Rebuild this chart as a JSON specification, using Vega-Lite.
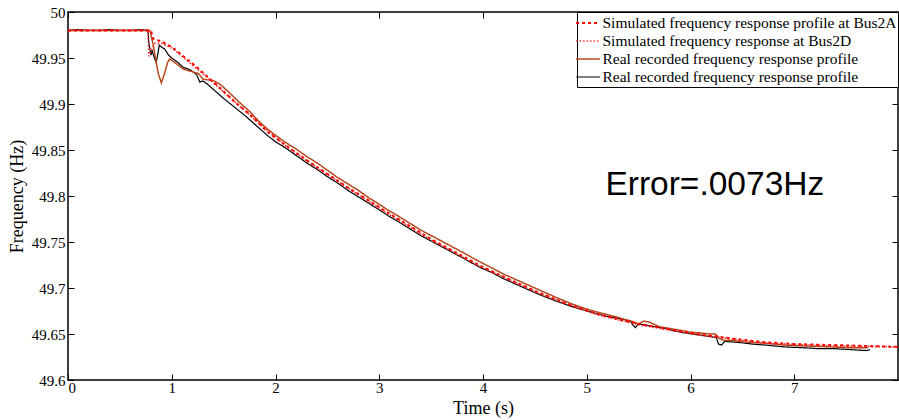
{
  "$schema": "https://vega.github.io/schema/vega-lite/v6.json",
  "width": 830,
  "height": 368,
  "autosize": {"type": "none"},
  "padding": {"left": 68, "top": 12, "right": 1, "bottom": 40},
  "config": {
    "view": {"stroke": "black", "strokeWidth": 1.5},
    "font": "Liberation Serif",
    "axis": {"domain": false, "tickColor": "black", "labelColor": "black", "titleColor": "black", "grid": false, "labelFont": "Liberation Serif", "titleFont": "Liberation Serif", "labelFontSize": 15, "titleFontSize": 18, "titleFontWeight": "normal", "tickWidth": 1}
  },
  "datasets": {
    "lines": [
      {"s":"D","t":0,"f":49.980},{"s":"D","t":0.1,"f":49.981},{"s":"D","t":0.2,"f":49.980},{"s":"D","t":0.3,"f":49.980},{"s":"D","t":0.4,"f":49.981},{"s":"D","t":0.5,"f":49.980},{"s":"D","t":0.6,"f":49.980},{"s":"D","t":0.7,"f":49.981},{"s":"D","t":0.77,"f":49.980},{"s":"D","t":0.78,"f":49.966},{"s":"D","t":0.8,"f":49.953},{"s":"D","t":0.81,"f":49.958},{"s":"D","t":0.83,"f":49.951},{"s":"D","t":0.85,"f":49.945},{"s":"D","t":0.87,"f":49.957},{"s":"D","t":0.88,"f":49.964},{"s":"D","t":0.9,"f":49.962},{"s":"D","t":0.93,"f":49.960},{"s":"D","t":0.97,"f":49.953},{"s":"D","t":1.0,"f":49.950},{"s":"D","t":1.05,"f":49.946},{"s":"D","t":1.11,"f":49.940},{"s":"D","t":1.18,"f":49.937},{"s":"D","t":1.24,"f":49.932},{"s":"D","t":1.27,"f":49.924},{"s":"D","t":1.30,"f":49.925},{"s":"D","t":1.34,"f":49.922},{"s":"D","t":1.40,"f":49.916},{"s":"D","t":1.5,"f":49.906},{"s":"D","t":1.6,"f":49.897},{"s":"D","t":1.7,"f":49.888},{"s":"D","t":1.8,"f":49.878},{"s":"D","t":1.92,"f":49.866},{"s":"D","t":2.0,"f":49.859},{"s":"D","t":2.1,"f":49.852},{"s":"D","t":2.2,"f":49.844},{"s":"D","t":2.3,"f":49.836},{"s":"D","t":2.4,"f":49.829},{"s":"D","t":2.5,"f":49.821},{"s":"D","t":2.6,"f":49.814},{"s":"D","t":2.7,"f":49.806},{"s":"D","t":2.8,"f":49.799},{"s":"D","t":2.9,"f":49.792},{"s":"D","t":3.0,"f":49.785},{"s":"D","t":3.08,"f":49.779},{"s":"D","t":3.2,"f":49.771},{"s":"D","t":3.3,"f":49.764},{"s":"D","t":3.4,"f":49.757},{"s":"D","t":3.5,"f":49.751},{"s":"D","t":3.6,"f":49.745},{"s":"D","t":3.7,"f":49.739},{"s":"D","t":3.8,"f":49.733},{"s":"D","t":3.96,"f":49.723},{"s":"D","t":4.1,"f":49.716},{"s":"D","t":4.2,"f":49.710},{"s":"D","t":4.3,"f":49.705},{"s":"D","t":4.4,"f":49.700},{"s":"D","t":4.54,"f":49.693},{"s":"D","t":4.7,"f":49.686},{"s":"D","t":4.85,"f":49.680},{"s":"D","t":5.0,"f":49.675},{"s":"D","t":5.1,"f":49.672},{"s":"D","t":5.2,"f":49.669},{"s":"D","t":5.3,"f":49.667},{"s":"D","t":5.42,"f":49.664},{"s":"D","t":5.45,"f":49.659},{"s":"D","t":5.47,"f":49.657},{"s":"D","t":5.5,"f":49.661},{"s":"D","t":5.6,"f":49.659},{"s":"D","t":5.75,"f":49.656},{"s":"D","t":5.9,"f":49.652},{"s":"D","t":6.08,"f":49.649},{"s":"D","t":6.2,"f":49.647},{"s":"D","t":6.25,"f":49.646},{"s":"D","t":6.27,"f":49.639},{"s":"D","t":6.3,"f":49.638},{"s":"D","t":6.33,"f":49.642},{"s":"D","t":6.45,"f":49.641},{"s":"D","t":6.6,"f":49.639},{"s":"D","t":6.72,"f":49.638},{"s":"D","t":6.9,"f":49.636},{"s":"D","t":7.1,"f":49.635},{"s":"D","t":7.25,"f":49.634},{"s":"D","t":7.4,"f":49.634},{"s":"D","t":7.55,"f":49.633},{"s":"D","t":7.7,"f":49.632},{"s":"D","t":7.73,"f":49.633},
      {"s":"C","t":0,"f":49.980},{"s":"C","t":0.3,"f":49.980},{"s":"C","t":0.6,"f":49.980},{"s":"C","t":0.79,"f":49.980},{"s":"C","t":0.82,"f":49.965},{"s":"C","t":0.84,"f":49.952},{"s":"C","t":0.87,"f":49.933},{"s":"C","t":0.90,"f":49.923},{"s":"C","t":0.93,"f":49.933},{"s":"C","t":0.96,"f":49.945},{"s":"C","t":0.98,"f":49.949},{"s":"C","t":1.03,"f":49.945},{"s":"C","t":1.11,"f":49.938},{"s":"C","t":1.2,"f":49.935},{"s":"C","t":1.26,"f":49.933},{"s":"C","t":1.30,"f":49.927},{"s":"C","t":1.36,"f":49.926},{"s":"C","t":1.41,"f":49.925},{"s":"C","t":1.47,"f":49.921},{"s":"C","t":1.53,"f":49.915},{"s":"C","t":1.65,"f":49.902},{"s":"C","t":1.75,"f":49.892},{"s":"C","t":1.85,"f":49.880},{"s":"C","t":1.92,"f":49.873},{"s":"C","t":2.0,"f":49.866},{"s":"C","t":2.1,"f":49.858},{"s":"C","t":2.2,"f":49.851},{"s":"C","t":2.3,"f":49.843},{"s":"C","t":2.4,"f":49.836},{"s":"C","t":2.5,"f":49.828},{"s":"C","t":2.6,"f":49.820},{"s":"C","t":2.7,"f":49.813},{"s":"C","t":2.8,"f":49.806},{"s":"C","t":2.9,"f":49.798},{"s":"C","t":3.0,"f":49.791},{"s":"C","t":3.08,"f":49.785},{"s":"C","t":3.2,"f":49.777},{"s":"C","t":3.3,"f":49.770},{"s":"C","t":3.4,"f":49.763},{"s":"C","t":3.5,"f":49.757},{"s":"C","t":3.6,"f":49.751},{"s":"C","t":3.7,"f":49.745},{"s":"C","t":3.8,"f":49.739},{"s":"C","t":3.96,"f":49.729},{"s":"C","t":4.1,"f":49.721},{"s":"C","t":4.2,"f":49.715},{"s":"C","t":4.3,"f":49.710},{"s":"C","t":4.4,"f":49.705},{"s":"C","t":4.54,"f":49.698},{"s":"C","t":4.7,"f":49.690},{"s":"C","t":4.85,"f":49.683},{"s":"C","t":5.0,"f":49.677},{"s":"C","t":5.1,"f":49.674},{"s":"C","t":5.2,"f":49.671},{"s":"C","t":5.3,"f":49.668},{"s":"C","t":5.43,"f":49.664},{"s":"C","t":5.5,"f":49.661},{"s":"C","t":5.55,"f":49.664},{"s":"C","t":5.6,"f":49.663},{"s":"C","t":5.7,"f":49.658},{"s":"C","t":5.85,"f":49.655},{"s":"C","t":6.0,"f":49.652},{"s":"C","t":6.1,"f":49.651},{"s":"C","t":6.2,"f":49.650},{"s":"C","t":6.24,"f":49.650},{"s":"C","t":6.28,"f":49.645},{"s":"C","t":6.33,"f":49.643},{"s":"C","t":6.4,"f":49.643},{"s":"C","t":6.55,"f":49.641},{"s":"C","t":6.72,"f":49.640},{"s":"C","t":6.9,"f":49.638},{"s":"C","t":7.1,"f":49.637},{"s":"C","t":7.36,"f":49.636},{"s":"C","t":7.55,"f":49.635},{"s":"C","t":7.71,"f":49.635},
      {"s":"B","t":0,"f":49.980},{"s":"B","t":0.77,"f":49.980},{"s":"B","t":0.78,"f":49.952},{"s":"B","t":0.8,"f":49.958},{"s":"B","t":0.84,"f":49.966},{"s":"B","t":0.9,"f":49.966},{"s":"B","t":1.0,"f":49.961},{"s":"B","t":1.3,"f":49.933},{"s":"B","t":1.46,"f":49.917},{"s":"B","t":1.75,"f":49.888},{"s":"B","t":2.1,"f":49.854},{"s":"B","t":2.5,"f":49.823},{"s":"B","t":3.08,"f":49.781},{"s":"B","t":3.5,"f":49.752},{"s":"B","t":3.96,"f":49.724},{"s":"B","t":4.54,"f":49.694},{"s":"B","t":5.1,"f":49.671},{"s":"B","t":5.5,"f":49.660},{"s":"B","t":6.08,"f":49.649},{"s":"B","t":6.72,"f":49.640},{"s":"B","t":7.36,"f":49.637},{"s":"B","t":8.0,"f":49.636},
      {"s":"A","t":0,"f":49.980},{"s":"A","t":0.8,"f":49.980},{"s":"A","t":0.82,"f":49.971},{"s":"A","t":0.9,"f":49.968},{"s":"A","t":1.0,"f":49.962},{"s":"A","t":1.1,"f":49.953},{"s":"A","t":1.2,"f":49.944},{"s":"A","t":1.3,"f":49.934},{"s":"A","t":1.46,"f":49.918},{"s":"A","t":1.6,"f":49.903},{"s":"A","t":1.75,"f":49.889},{"s":"A","t":1.92,"f":49.870},{"s":"A","t":2.1,"f":49.855},{"s":"A","t":2.3,"f":49.839},{"s":"A","t":2.5,"f":49.824},{"s":"A","t":2.7,"f":49.809},{"s":"A","t":2.9,"f":49.795},{"s":"A","t":3.08,"f":49.782},{"s":"A","t":3.3,"f":49.767},{"s":"A","t":3.5,"f":49.753},{"s":"A","t":3.7,"f":49.741},{"s":"A","t":3.96,"f":49.725},{"s":"A","t":4.2,"f":49.712},{"s":"A","t":4.54,"f":49.695},{"s":"A","t":4.8,"f":49.683},{"s":"A","t":5.1,"f":49.672},{"s":"A","t":5.3,"f":49.666},{"s":"A","t":5.5,"f":49.661},{"s":"A","t":5.8,"f":49.655},{"s":"A","t":6.08,"f":49.650},{"s":"A","t":6.4,"f":49.645},{"s":"A","t":6.72,"f":49.641},{"s":"A","t":7.0,"f":49.639},{"s":"A","t":7.36,"f":49.638},{"s":"A","t":7.7,"f":49.637},{"s":"A","t":8.0,"f":49.636}
    ],
    "note": [{"t": 5.18, "f": 49.812, "label": "Error=.0073Hz"}],
    "blank": [{"t": 0, "f": 49.98, "label": ""}]
  },
  "layer": [
    {
      "data": {"name": "lines"},
      "mark": {"type": "line", "clip": true},
      "encoding": {
        "x": {"field": "t", "type": "quantitative", "scale": {"domain": [0, 8], "nice": false, "zero": false},
              "axis": {"orient": "bottom", "values": [0,1,2,3,4,5,6,7], "ticks": false, "labelPadding": 0, "title": "Time (s)", "titlePadding": 4}},
        "y": {"field": "f", "type": "quantitative", "scale": {"domain": [49.6, 50], "nice": false, "zero": false},
              "axis": {"orient": "left", "values": [49.6,49.65,49.7,49.75,49.8,49.85,49.9,49.95,50], "format": ".2~f", "ticks": false, "labelPadding": 3, "title": "Frequency (Hz)", "titlePadding": 5}},
        "color": {"field": "s", "type": "nominal",
                  "scale": {"domain": ["A","B","C","D"], "range": ["#ff0000", "#ff3030", "#b4461a", "#000000"]},
                  "legend": {"orient": "top-right", "offset": 0, "title": null, "symbolType": "M-1.4,0H1.4", "symbolSize": 289,
                             "labelFont": "Liberation Serif", "labelFontSize": 15.5, "labelColor": "black", "labelLimit": 500,
                             "strokeColor": "black", "fillColor": "white", "padding": 1.5, "rowPadding": 0, "labelOffset": 5,
                             "labelExpr": "datum.value == 'A' ? 'Simulated frequency response profile at Bus2A' : datum.value == 'B' ? 'Simulated frequency response at Bus2D' : 'Real recorded frequency response profile'"}},
        "strokeDash": {"field": "s", "type": "nominal", "scale": {"domain": ["A","B","C","D"], "range": [[3,3],[1.5,2],[1,0],[1,0]]}},
        "strokeWidth": {"field": "s", "type": "nominal", "scale": {"domain": ["A","B","C","D"], "range": [2, 1.2, 2.4, 2.3]}}
      }
    },
    {
      "data": {"name": "note"},
      "mark": {"type": "text", "align": "left", "baseline": "middle", "font": "Liberation Sans", "fontSize": 33.5, "color": "black"},
      "encoding": {
        "x": {"field": "t", "type": "quantitative", "axis": {"orient": "top", "offset": -6, "tickSize": 6, "values": [0,1,2,3,4,5,6,7], "labels": false, "title": null}},
        "y": {"field": "f", "type": "quantitative", "axis": {"orient": "right", "offset": -6, "tickSize": 6, "values": [49.6,49.65,49.7,49.75,49.8,49.85,49.9,49.95,50], "labels": false, "title": null}},
        "text": {"field": "label"}
      }
    },
    {
      "data": {"name": "blank"},
      "mark": {"type": "text"},
      "encoding": {
        "x": {"field": "t", "type": "quantitative", "axis": {"orient": "bottom", "offset": -6, "tickSize": 6, "values": [0,1,2,3,4,5,6,7], "labels": false, "title": null}},
        "y": {"field": "f", "type": "quantitative", "axis": {"orient": "left", "offset": -6, "tickSize": 6, "values": [49.6,49.65,49.7,49.75,49.8,49.85,49.9,49.95,50], "labels": false, "title": null}},
        "text": {"field": "label"}
      }
    }
  ],
  "resolve": {"axis": {"x": "independent", "y": "independent"}}
}
